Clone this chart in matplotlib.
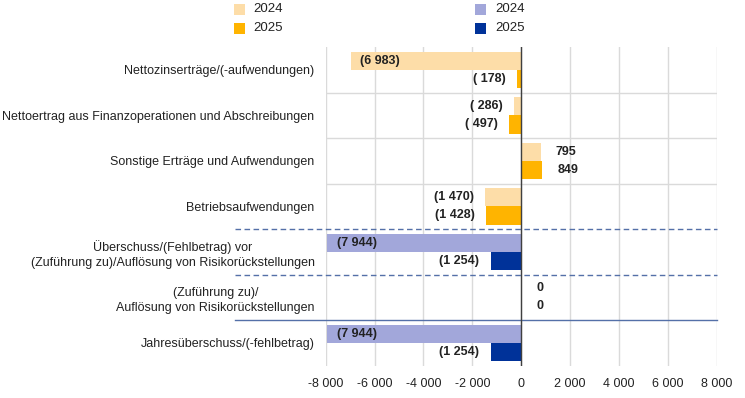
import matplotlib.pyplot as plt
from matplotlib.patches import Rectangle

plt.rcParams['font.family'] = ['Liberation Sans', 'DejaVu Sans']

categories = [
    "Nettozinserträge/(-aufwendungen)",
    "Nettoertrag aus Finanzoperationen und Abschreibungen",
    "Sonstige Erträge und Aufwendungen",
    "Betriebsaufwendungen",
    "Überschuss/(Fehlbetrag) vor\n(Zuführung zu)/Auflösung von Risikorückstellungen",
    "(Zuführung zu)/\nAuflösung von Risikorückstellungen",
    "Jahresüberschuss/(-fehlbetrag)",
]
values_2024 = [-6983, -286, 795, -1470, -7944, 0, -7944]
values_2025 = [-178, -497, 849, -1428, -1254, 0, -1254]
# first four rows in yellow, the result rows in blue
palette = ["yellow"] * 4 + ["blue"] * 3
colors = {
    "yellow": ("#FDDDA8", "#FFB400"),
    "blue": ("#A2A7DA", "#003299"),
}
xticks = list(range(-8000, 8001, 2000))


def fmt_num(v):
    s = f"{abs(v):,}".replace(",", " ")
    if v < 0:
        if abs(v) < 1000:
            return "( " + s + ")"
        return "(" + s + ")"
    return s


def fmt_tick(v):
    return f"{int(v):,}".replace(",", " ")


fig = plt.figure(figsize=(7.45, 3.98), dpi=100)
ax = fig.add_axes([0.4372, 0.0812, 0.5248, 0.8007])

ypos = list(range(len(categories)))
h = 0.4
c24 = [colors[p][0] for p in palette]
c25 = [colors[p][1] for p in palette]
ax.barh([y - 0.2 for y in ypos], values_2024, height=h, color=c24, zorder=3)
ax.barh([y + 0.2 for y in ypos], values_2025, height=h, color=c25, zorder=3)

ax.set_xticks(xticks)
ax.set_xticklabels([fmt_tick(t) for t in xticks], fontsize=9, color="#222222")
ax.set_yticks(ypos)
ax.set_yticklabels(categories, fontsize=9, color="#222222", multialignment="center",
                   linespacing=1.35)
ax.tick_params(length=0)
ax.tick_params(axis="x", pad=9)
ax.tick_params(axis="y", pad=8)
for s in ax.spines.values():
    s.set_visible(False)

for t in xticks:
    ax.axvline(t, color="#DADADA", lw=1.0, zorder=1)
ax.axvline(0, color="#404040", lw=1.0, zorder=4)
for yb in [0.5, 1.5, 2.5]:
    ax.axhline(yb, color="#DADADA", lw=1.0, zorder=1)

# separators reaching into the label column
sep_x0 = -0.232
ax.plot([sep_x0, 1.0], [3.5, 3.5], transform=ax.get_yaxis_transform(),
        color="#5470A8", lw=1.0, ls=(0, (4, 2.5)), clip_on=False, zorder=2)
ax.plot([sep_x0, 1.0], [4.5, 4.5], transform=ax.get_yaxis_transform(),
        color="#5470A8", lw=1.0, ls=(0, (4, 2.5)), clip_on=False, zorder=2)
ax.plot([sep_x0, 1.0], [5.5, 5.5], transform=ax.get_yaxis_transform(),
        color="#5470A8", lw=1.0, clip_on=False, zorder=2)

# value labels
for vals, off in [(values_2024, -0.2), (values_2025, 0.2)]:
    for y, v in zip(ypos, vals):
        if v <= -6000:
            ax.annotate(fmt_num(v), (v, y + off), xytext=(7, 0), textcoords="offset points",
                        ha="left", va="center", fontsize=9, fontweight="bold",
                        color="#222222", zorder=5)
        elif v < 0:
            ax.annotate(fmt_num(v), (v, y + off), xytext=(-8, 0), textcoords="offset points",
                        ha="right", va="center", fontsize=9, fontweight="bold",
                        color="#222222", zorder=5)
        else:
            ax.annotate(fmt_num(v), (v, y + off), xytext=(11, 0), textcoords="offset points",
                        ha="left", va="center", fontsize=9, fontweight="bold",
                        color="#222222", zorder=5)

ax.set_xlim(-8000, 8000)
ax.set_ylim(6.5, -0.5)

# legend: two groups of squares
W, H = 745.0, 398.0
for gx, key in [(233.5, "yellow"), (475.0, "blue")]:
    for i, (lab, col) in enumerate(zip(["2024", "2025"], colors[key])):
        cy = 9.5 + i * 18.5
        fig.add_artist(Rectangle((gx / W, 1 - (cy + 5.5) / H), 11 / W, 11 / H,
                                 transform=fig.transFigure, color=col, lw=0))
        fig.text((gx + 20) / W, 1 - cy / H, lab, fontsize=9.5, color="#222222",
                 ha="left", va="center")

fig.savefig("out.png", dpi=100, facecolor="white")
